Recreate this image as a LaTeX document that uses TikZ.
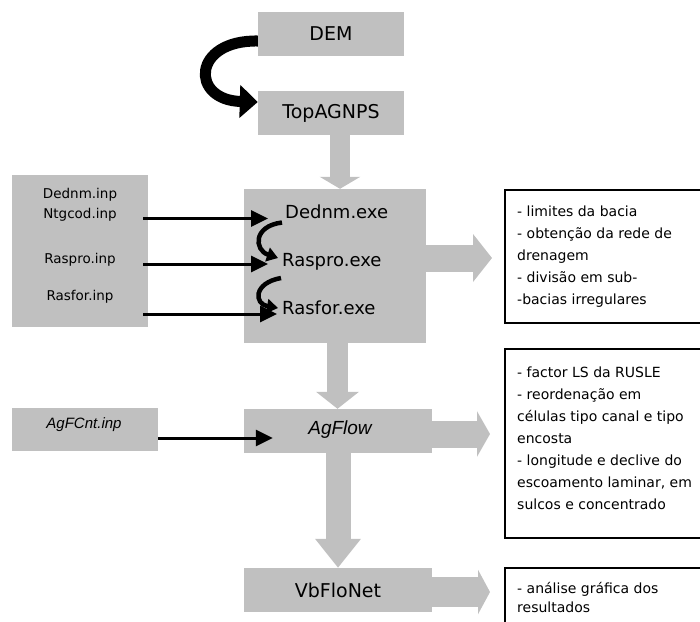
\documentclass[tikz,border=0pt]{standalone}
\usepackage{fontspec}
\setmainfont{DejaVu Sans}
\newfontfamily\arialfont{Liberation Sans}
\usetikzlibrary{arrows.meta}
\definecolor{boxgray}{RGB}{192,192,192}
\begin{document}
\begin{tikzpicture}[x=1pt,y=-1pt,
  gbox/.style={fill=boxgray, draw=none, inner sep=0pt},
  wbox/.style={fill=white, draw=black, line width=1.6pt, inner sep=0pt},
  lbl/.style={inner sep=0pt, font=\fontsize{19}{21}\selectfont},
  exelbl/.style={inner sep=0pt, anchor=base west, font=\fontsize{18}{20}\selectfont},
  inplbl/.style={inner sep=0pt, font=\fontsize{13.5}{15}\selectfont},
  notes/.style={inner sep=0pt, anchor=north west, align=left},
  blockarr/.style n args={3}{draw=boxgray, line width=#1, -{Triangle[width=#2,length=#3]}},
  blk/.style={draw=black, line width=3pt, -{Triangle[width=16pt,length=17pt]}},
  curv/.style={draw=black, line width=4.5pt, -{Triangle[width=14pt,length=11pt]}},
  bigcurv/.style={draw=black, line width=11pt, -{Triangle[width=32pt,length=18pt]}}
]
\clip (0,0) rectangle (700,621);
\fill[white] (0,0) rectangle (700,621);

% gray boxes
\node[gbox, minimum width=146pt, minimum height=44pt, lbl] (dem) at (331,34) {DEM};
\node[gbox, minimum width=146pt, minimum height=44pt, lbl] (top) at (331,113) {TopAGNPS};
\node[gbox, minimum width=182pt, minimum height=154pt] (big) at (335,266) {};
\node[gbox, minimum width=136pt, minimum height=152pt] (inp) at (80,251) {};
\node[gbox, minimum width=188pt, minimum height=44pt] (agflow) at (338,431) {};
\node[lbl, font=\arialfont\itshape\fontsize{19}{21}\selectfont] (agflowtxt) at (340,430) {AgFlow};
\node[gbox, minimum width=146pt, minimum height=43pt] (agf) at (85,429.5) {};
\node[inplbl, font=\arialfont\itshape\fontsize{15}{17}\selectfont] (agftxt) at (84,425) {AgFCnt.inp};
\node[gbox, minimum width=188pt, minimum height=44pt, lbl] (vb) at (338,590) {VbFloNet};

% texts in the gray boxes
\node[exelbl] (dexe) at (285,218.5) {Dednm.exe};
\node[exelbl] (rexe) at (282,266) {Raspro.exe};
\node[exelbl] (rfexe) at (282,314) {Rasfor.exe};
\node[inplbl] (i1) at (80,195) {Dednm.inp};
\node[inplbl] (i2) at (80,215) {Ntgcod.inp};
\node[inplbl] (i3) at (80,260) {Raspro.inp};
\node[inplbl] (i4) at (80,297) {Rasfor.inp};

% white note boxes
\node[wbox, minimum width=215pt, minimum height=133pt] (n1) at (612.5,256.5) {};
\node[wbox, minimum width=215pt, minimum height=189pt] (n2) at (612.5,443.5) {};
\node[wbox, minimum width=215pt, minimum height=72pt] (n3) at (612.5,604) {};
\node[notes, font=\fontsize{14}{22}\selectfont] (t1) at (517,206)
  {- limites da bacia\\- obtenção da rede de\\drenagem\\- divisão em sub-\\-bacias irregulares};
\node[notes, font=\fontsize{14}{22}\selectfont] (t2) at (517,367)
  {- factor LS da RUSLE\\- reordenação em\\células tipo canal e tipo\\encosta\\- longitude e declive do\\escoamento laminar, em\\sulcos e concentrado};
\node[notes, font=\fontsize{14}{19.5}\selectfont] (t3) at (517,582)
  {- análise gráfica dos\\resultados};

% free ends of the side arrows
\coordinate (r1) at (492,258);
\coordinate (r2) at (490,434);
\coordinate (r3) at (490,592);

% gray block arrows
\draw[blockarr={20pt}{40pt}{12pt}] ([xshift=9pt]top.south) -- ([xshift=5pt]big.north);
\draw[blockarr={21pt}{42pt}{17pt}] ([xshift=2.5pt]big.south) -- ([xshift=-0.5pt]agflow.north);
\draw[blockarr={25pt}{44pt}{29pt}] (agflow.south) -- (vb.north);
\draw[blockarr={27pt}{47pt}{19pt}] ([yshift=8pt]big.east) -- (r1);
\draw[blockarr={27pt}{45pt}{13pt}] ([yshift=-3pt]agflow.east) -- (r2);
\draw[blockarr={30pt}{44pt}{12pt}] ([yshift=-2pt]vb.east) -- (r3);

% black arrows
\draw[bigcurv] ([yshift=-7pt]dem.west) .. controls (192,40) and (190,100) .. ([yshift=11pt]top.west);
\draw[blk] ([xshift=-5pt]inp.east |- dexe.base west) -- ([xshift=-17pt]dexe.base west);
\draw[blk] ([xshift=-5pt,yshift=2pt]inp.east |- rexe.base west) -- ([xshift=-14pt,yshift=2pt]rexe.base west);
\draw[blk] ([xshift=-5pt]inp.east |- rfexe.base west) -- ([xshift=-5pt]rfexe.base west);
\draw[blk] ([yshift=-8.5pt]agf.east) -- ([xshift=29pt,yshift=-7pt]agflow.west);
\draw[curv] ([xshift=-3pt,yshift=-4pt]dexe.base west) .. controls (253,226) and (254,250) .. ([xshift=-4pt,yshift=8pt]rexe.base west);
\draw[curv] ([xshift=-1pt,yshift=-12pt]rexe.base west) .. controls (253,283) and (254,304) .. ([xshift=-4pt,yshift=6pt]rfexe.base west);
\end{tikzpicture}
\end{document}
